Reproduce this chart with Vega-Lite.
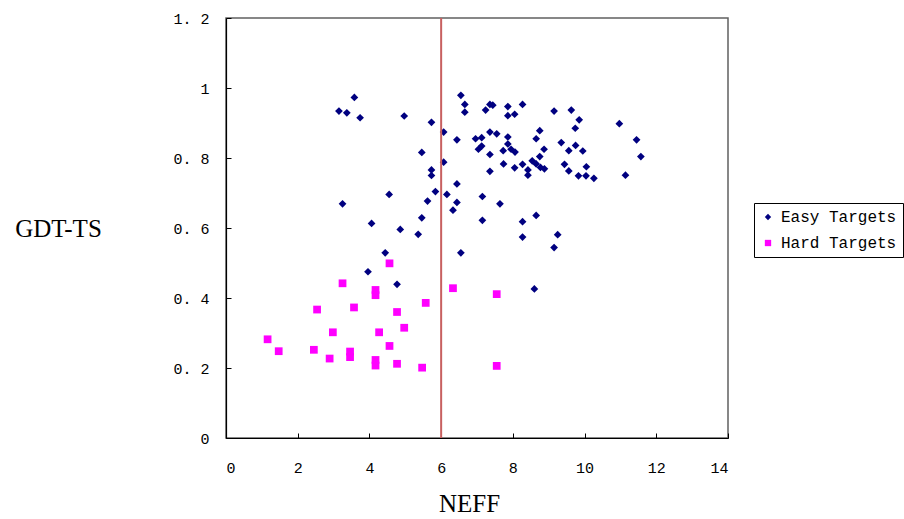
{
  "$schema": "https://vega.github.io/schema/vega-lite/v6.json",
  "width": 502,
  "height": 420,
  "autosize": {"type": "none"},
  "padding": {"left": 226, "top": 18, "right": 176, "bottom": 81},
  "background": "white",
  "config": {
    "view": {"stroke": "#606060", "strokeWidth": 1.5},
    "axis": {
      "grid": false,
      "domainColor": "#000000",
      "domainWidth": 1.2,
      "tickColor": "#000000",
      "tickWidth": 1,
      "labelColor": "#000000",
      "labelFont": "Liberation Mono",
      "labelFontSize": 15,
      "titleFont": "Liberation Serif",
      "titleFontSize": 25,
      "titleFontWeight": "normal",
      "titleColor": "#000000",
      "tickSize": -5
    }
  },
  "layer": [
    {
      "data": {
        "values": [
          {"NEFF": 3.58, "GDT": 0.973, "type": "Easy Targets"},
          {"NEFF": 3.15, "GDT": 0.934, "type": "Easy Targets"},
          {"NEFF": 3.37, "GDT": 0.929, "type": "Easy Targets"},
          {"NEFF": 3.74, "GDT": 0.915, "type": "Easy Targets"},
          {"NEFF": 4.97, "GDT": 0.92, "type": "Easy Targets"},
          {"NEFF": 5.73, "GDT": 0.902, "type": "Easy Targets"},
          {"NEFF": 6.07, "GDT": 0.874, "type": "Easy Targets"},
          {"NEFF": 6.55, "GDT": 0.979, "type": "Easy Targets"},
          {"NEFF": 6.66, "GDT": 0.953, "type": "Easy Targets"},
          {"NEFF": 6.66, "GDT": 0.931, "type": "Easy Targets"},
          {"NEFF": 7.24, "GDT": 0.937, "type": "Easy Targets"},
          {"NEFF": 6.44, "GDT": 0.852, "type": "Easy Targets"},
          {"NEFF": 6.96, "GDT": 0.855, "type": "Easy Targets"},
          {"NEFF": 7.13, "GDT": 0.858, "type": "Easy Targets"},
          {"NEFF": 7.13, "GDT": 0.834, "type": "Easy Targets"},
          {"NEFF": 7.04, "GDT": 0.825, "type": "Easy Targets"},
          {"NEFF": 7.36, "GDT": 0.874, "type": "Easy Targets"},
          {"NEFF": 7.55, "GDT": 0.869, "type": "Easy Targets"},
          {"NEFF": 7.36, "GDT": 0.953, "type": "Easy Targets"},
          {"NEFF": 7.44, "GDT": 0.951, "type": "Easy Targets"},
          {"NEFF": 7.86, "GDT": 0.947, "type": "Easy Targets"},
          {"NEFF": 7.86, "GDT": 0.921, "type": "Easy Targets"},
          {"NEFF": 8.05, "GDT": 0.925, "type": "Easy Targets"},
          {"NEFF": 8.27, "GDT": 0.953, "type": "Easy Targets"},
          {"NEFF": 7.86, "GDT": 0.86, "type": "Easy Targets"},
          {"NEFF": 7.86, "GDT": 0.84, "type": "Easy Targets"},
          {"NEFF": 7.73, "GDT": 0.821, "type": "Easy Targets"},
          {"NEFF": 7.95, "GDT": 0.825, "type": "Easy Targets"},
          {"NEFF": 8.06, "GDT": 0.817, "type": "Easy Targets"},
          {"NEFF": 7.36, "GDT": 0.81, "type": "Easy Targets"},
          {"NEFF": 7.74, "GDT": 0.783, "type": "Easy Targets"},
          {"NEFF": 8.05, "GDT": 0.772, "type": "Easy Targets"},
          {"NEFF": 8.27, "GDT": 0.782, "type": "Easy Targets"},
          {"NEFF": 8.42, "GDT": 0.766, "type": "Easy Targets"},
          {"NEFF": 8.42, "GDT": 0.751, "type": "Easy Targets"},
          {"NEFF": 8.54, "GDT": 0.792, "type": "Easy Targets"},
          {"NEFF": 8.65, "GDT": 0.783, "type": "Easy Targets"},
          {"NEFF": 8.77, "GDT": 0.773, "type": "Easy Targets"},
          {"NEFF": 8.88, "GDT": 0.769, "type": "Easy Targets"},
          {"NEFF": 8.75, "GDT": 0.804, "type": "Easy Targets"},
          {"NEFF": 8.87, "GDT": 0.825, "type": "Easy Targets"},
          {"NEFF": 8.65, "GDT": 0.855, "type": "Easy Targets"},
          {"NEFF": 8.75, "GDT": 0.878, "type": "Easy Targets"},
          {"NEFF": 7.36, "GDT": 0.762, "type": "Easy Targets"},
          {"NEFF": 9.15, "GDT": 0.934, "type": "Easy Targets"},
          {"NEFF": 9.63, "GDT": 0.937, "type": "Easy Targets"},
          {"NEFF": 9.85, "GDT": 0.909, "type": "Easy Targets"},
          {"NEFF": 9.74, "GDT": 0.885, "type": "Easy Targets"},
          {"NEFF": 9.35, "GDT": 0.844, "type": "Easy Targets"},
          {"NEFF": 9.56, "GDT": 0.821, "type": "Easy Targets"},
          {"NEFF": 9.75, "GDT": 0.836, "type": "Easy Targets"},
          {"NEFF": 9.95, "GDT": 0.82, "type": "Easy Targets"},
          {"NEFF": 9.44, "GDT": 0.782, "type": "Easy Targets"},
          {"NEFF": 9.56, "GDT": 0.763, "type": "Easy Targets"},
          {"NEFF": 10.05, "GDT": 0.775, "type": "Easy Targets"},
          {"NEFF": 9.83, "GDT": 0.749, "type": "Easy Targets"},
          {"NEFF": 10.04, "GDT": 0.749, "type": "Easy Targets"},
          {"NEFF": 10.26, "GDT": 0.742, "type": "Easy Targets"},
          {"NEFF": 10.97, "GDT": 0.898, "type": "Easy Targets"},
          {"NEFF": 11.45, "GDT": 0.852, "type": "Easy Targets"},
          {"NEFF": 11.57, "GDT": 0.804, "type": "Easy Targets"},
          {"NEFF": 11.14, "GDT": 0.751, "type": "Easy Targets"},
          {"NEFF": 5.46, "GDT": 0.816, "type": "Easy Targets"},
          {"NEFF": 6.07, "GDT": 0.788, "type": "Easy Targets"},
          {"NEFF": 5.73, "GDT": 0.766, "type": "Easy Targets"},
          {"NEFF": 5.73, "GDT": 0.75, "type": "Easy Targets"},
          {"NEFF": 6.44, "GDT": 0.726, "type": "Easy Targets"},
          {"NEFF": 5.84, "GDT": 0.704, "type": "Easy Targets"},
          {"NEFF": 6.16, "GDT": 0.696, "type": "Easy Targets"},
          {"NEFF": 4.55, "GDT": 0.696, "type": "Easy Targets"},
          {"NEFF": 3.25, "GDT": 0.669, "type": "Easy Targets"},
          {"NEFF": 5.62, "GDT": 0.677, "type": "Easy Targets"},
          {"NEFF": 6.44, "GDT": 0.673, "type": "Easy Targets"},
          {"NEFF": 6.33, "GDT": 0.651, "type": "Easy Targets"},
          {"NEFF": 7.15, "GDT": 0.69, "type": "Easy Targets"},
          {"NEFF": 7.15, "GDT": 0.622, "type": "Easy Targets"},
          {"NEFF": 7.64, "GDT": 0.669, "type": "Easy Targets"},
          {"NEFF": 8.27, "GDT": 0.618, "type": "Easy Targets"},
          {"NEFF": 8.65, "GDT": 0.636, "type": "Easy Targets"},
          {"NEFF": 8.27, "GDT": 0.574, "type": "Easy Targets"},
          {"NEFF": 9.25, "GDT": 0.581, "type": "Easy Targets"},
          {"NEFF": 9.15, "GDT": 0.544, "type": "Easy Targets"},
          {"NEFF": 4.06, "GDT": 0.613, "type": "Easy Targets"},
          {"NEFF": 5.46, "GDT": 0.629, "type": "Easy Targets"},
          {"NEFF": 4.86, "GDT": 0.596, "type": "Easy Targets"},
          {"NEFF": 5.36, "GDT": 0.582, "type": "Easy Targets"},
          {"NEFF": 4.44, "GDT": 0.529, "type": "Easy Targets"},
          {"NEFF": 6.55, "GDT": 0.529, "type": "Easy Targets"},
          {"NEFF": 3.96, "GDT": 0.475, "type": "Easy Targets"},
          {"NEFF": 4.77, "GDT": 0.439, "type": "Easy Targets"},
          {"NEFF": 8.6, "GDT": 0.426, "type": "Easy Targets"},
          {"NEFF": 4.56, "GDT": 0.499, "type": "Hard Targets"},
          {"NEFF": 3.25, "GDT": 0.442, "type": "Hard Targets"},
          {"NEFF": 4.17, "GDT": 0.423, "type": "Hard Targets"},
          {"NEFF": 4.17, "GDT": 0.408, "type": "Hard Targets"},
          {"NEFF": 6.33, "GDT": 0.428, "type": "Hard Targets"},
          {"NEFF": 7.55, "GDT": 0.411, "type": "Hard Targets"},
          {"NEFF": 5.57, "GDT": 0.386, "type": "Hard Targets"},
          {"NEFF": 2.54, "GDT": 0.367, "type": "Hard Targets"},
          {"NEFF": 3.57, "GDT": 0.373, "type": "Hard Targets"},
          {"NEFF": 4.77, "GDT": 0.36, "type": "Hard Targets"},
          {"NEFF": 4.97, "GDT": 0.315, "type": "Hard Targets"},
          {"NEFF": 2.98, "GDT": 0.302, "type": "Hard Targets"},
          {"NEFF": 4.27, "GDT": 0.302, "type": "Hard Targets"},
          {"NEFF": 1.16, "GDT": 0.282, "type": "Hard Targets"},
          {"NEFF": 4.56, "GDT": 0.263, "type": "Hard Targets"},
          {"NEFF": 1.47, "GDT": 0.248, "type": "Hard Targets"},
          {"NEFF": 2.45, "GDT": 0.252, "type": "Hard Targets"},
          {"NEFF": 2.89, "GDT": 0.227, "type": "Hard Targets"},
          {"NEFF": 3.46, "GDT": 0.247, "type": "Hard Targets"},
          {"NEFF": 3.46, "GDT": 0.231, "type": "Hard Targets"},
          {"NEFF": 4.17, "GDT": 0.223, "type": "Hard Targets"},
          {"NEFF": 4.17, "GDT": 0.207, "type": "Hard Targets"},
          {"NEFF": 4.77, "GDT": 0.212, "type": "Hard Targets"},
          {"NEFF": 5.47, "GDT": 0.201, "type": "Hard Targets"},
          {"NEFF": 7.55, "GDT": 0.206, "type": "Hard Targets"}
        ]
      },
      "mark": {"type": "point", "filled": true, "opacity": 1, "size": 60},
      "encoding": {
        "x": {
          "field": "NEFF", "type": "quantitative",
          "scale": {"domain": [0, 14], "nice": false, "zero": true},
          "axis": {
            "title": "NEFF",
            "values": [0, 2, 4, 6, 8, 10, 12, 14],
            "labelPadding": 27,
            "titleX": 243, "titleY": 65, "titleBaseline": "middle", "titleAlign": "center"
          }
        },
        "y": {
          "field": "GDT", "type": "quantitative",
          "scale": {"domain": [0, 1.2], "nice": false},
          "axis": {
            "title": "GDT-TS",
            "values": [0, 0.2, 0.4, 0.6, 0.8, 1, 1.2],
            "format": ".1~f",
            "labelExpr": "replace(datum.label, '.', '. ')",
            "labelPadding": 22,
            "titleAngle": 0, "titleX": -168, "titleY": 210,
            "titleAlign": "center", "titleBaseline": "middle"
          }
        },
        "color": {
          "field": "type", "type": "nominal",
          "scale": {"domain": ["Easy Targets", "Hard Targets"], "range": ["#000080", "#ff00ff"]},
          "legend": {
            "title": null,
            "orient": "none",
            "legendX": 528,
            "legendY": 185,
            "strokeColor": "#000000",
            "padding": 6,
            "labelFont": "Liberation Mono",
            "labelFontSize": 16,
            "labelColor": "#000000",
            "symbolSize": 40,
            "rowPadding": 10,
            "labelOffset": 5
          }
        },
        "shape": {
          "field": "type", "type": "nominal",
          "scale": {"domain": ["Easy Targets", "Hard Targets"], "range": ["diamond", "square"]},
          "legend": null
        }
      }
    },
    {
      "data": {"values": [{"NEFF": 6}]},
      "mark": {"type": "rule", "color": "#c86060", "strokeWidth": 2},
      "encoding": {"x": {"field": "NEFF", "type": "quantitative"}}
    }
  ]
}
